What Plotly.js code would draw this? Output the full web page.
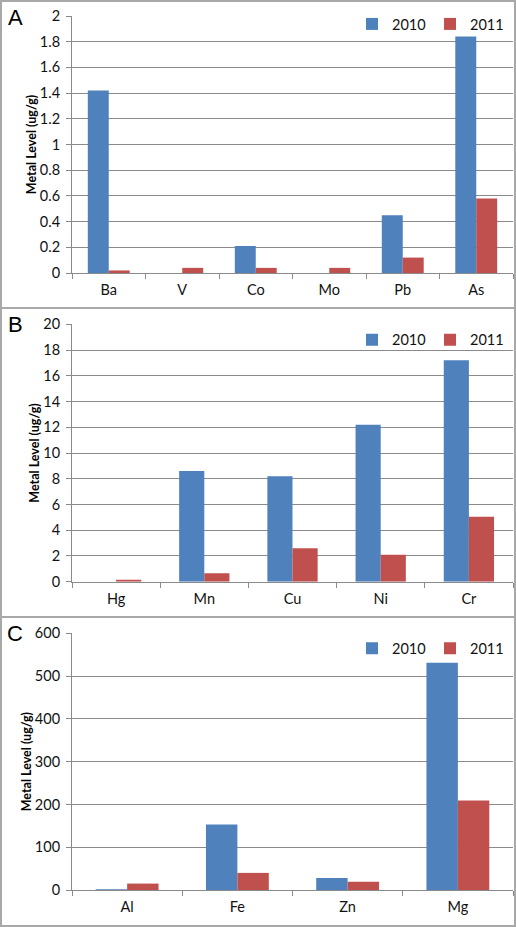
<!DOCTYPE html>
<html><head><meta charset="utf-8">
<script src="https://cdn.plot.ly/plotly-3.0.1.min.js"></script>
<style>html,body{margin:0;padding:0;background:#fff}#chart{width:516px;height:927px}</style>
</head><body><div id="chart"></div>
<script>
// Panel A
const catsA = ["Ba","V","Co","Mo","Pb","As"];
const a2010 = [1.42, 0, 0.21, 0, 0.45, 1.84];
const a2011 = [0.02, 0.04, 0.04, 0.04, 0.12, 0.58];
// Panel B
const catsB = ["Hg","Mn","Cu","Ni","Cr"];
const b2010 = [0, 8.6, 8.2, 12.2, 17.2];
const b2011 = [0.15, 0.65, 2.6, 2.1, 5.05];
// Panel C
const catsC = ["Al","Fe","Zn","Mg"];
const c2010 = [2, 153, 28, 531];
const c2011 = [15, 40, 19, 209];
const seriesNames = ["2010","2011"];

const BLUE = "#4F81BD", RED = "#C0504D";
const W = 516, H = 927;
const py = v => 1 - v / H, px = v => v / W;
const FONT = "Lato, 'Open Sans', sans-serif";

function bars(cats, v1, v2, n) {
  const xa = n === 1 ? "x" : "x" + n, ya = n === 1 ? "y" : "y" + n;
  const lg = n === 1 ? "legend" : "legend" + n;
  return [
    {type:"bar", name:seriesNames[0], x:cats, y:v1, xaxis:xa, yaxis:ya, legend:lg, marker:{color:BLUE}, hoverinfo:"skip"},
    {type:"bar", name:seriesNames[1], x:cats, y:v2, xaxis:xa, yaxis:ya, legend:lg, marker:{color:RED}, hoverinfo:"skip"}
  ];
}
const data = [].concat(bars(catsA,a2010,a2011,1), bars(catsB,b2010,b2011,2), bars(catsC,c2010,c2011,3));

const GRID = "#8a8a8a";
function xax(anchor) {
  return {anchor:anchor, domain:[px(72), px(513)], showgrid:false, showline:true, linecolor:GRID, linewidth:1,
    ticks:"outside", tickson:"boundaries", ticklen:5, tickcolor:GRID, tickwidth:1, ticklabelstandoff:4,
    tickfont:{family:FONT, size:14.5, color:"#111"}, automargin:false, fixedrange:true};
}
function yax(anchor, dom, range, dtick) {
  return {anchor:anchor, domain:dom, range:range, dtick:dtick, tick0:0, showgrid:true, gridcolor:GRID, gridwidth:1,
    zeroline:false, showline:true, linecolor:GRID, ticks:"outside", ticklen:5, tickcolor:GRID, ticklabelstandoff:3,
    tickfont:{family:FONT, size:14.5, color:"#111"}, automargin:false, fixedrange:true,
    title:{text:"Metal Level (ug/g)", font:{family:FONT, size:12.5, color:"#000", weight:"bold"}, standoff:0}};
}
function leg(ycen) {
  return {orientation:"h", x:px(352), xanchor:"left", y:ycen, yanchor:"middle",
    bgcolor:"rgba(0,0,0,0)", font:{family:FONT, size:14.5, color:"#111"}, entrywidth:33, entrywidthmode:"pixels",
    traceorder:"normal"};
}
const border = (t,b) => ({type:"rect", xref:"paper", yref:"paper", x0:px(1), x1:px(515), y0:py(t), y1:py(b),
  line:{color:"#a8a8a8", width:2}, layer:"above"});
const letter = (t, yc) => ({text:t, xref:"paper", yref:"paper", x:px(15), y:py(yc), xanchor:"center", yanchor:"middle",
  showarrow:false, font:{family:"'Liberation Sans', Arial, sans-serif", size:22, color:"#000"}});

const layout = {
  width:W, height:H, margin:{l:0,r:0,t:0,b:0}, paper_bgcolor:"#fff", plot_bgcolor:"#fff",
  barmode:"group", bargap:0.43, bargroupgap:0,
  xaxis:xax("y"), yaxis:yax("x", [py(273), py(16)], [0,2], 0.2),
  xaxis2:xax("y2"), yaxis2:yax("x2", [py(581.7), py(324.3)], [0,20], 2),
  xaxis3:xax("y3"), yaxis3:yax("x3", [py(890), py(633.3)], [0,600], 100),
  legend:leg(py(24)), legend2:leg(py(339.7)), legend3:leg(py(648.3)),
  shapes:[border(1,308), border(308,617), border(617,926)],
  annotations:[letter("A",18), letter("B",324.5), letter("C",633)],
  showlegend:true
};
Plotly.newPlot("chart", data, layout, {displayModeBar:false, staticPlot:true});
</script></body></html>
